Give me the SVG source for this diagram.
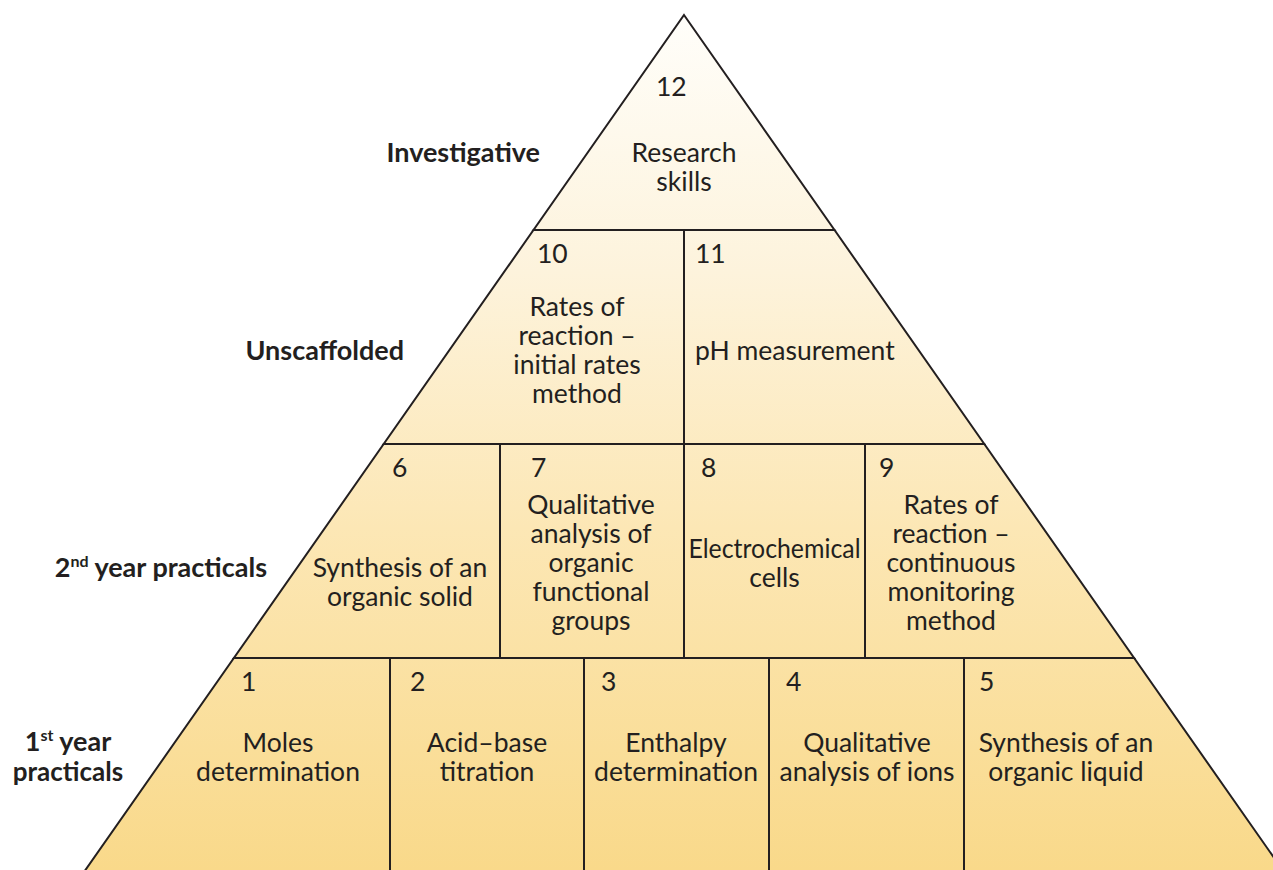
<svg xmlns="http://www.w3.org/2000/svg" width="1273" height="870" viewBox="0 0 1273 870">
<defs>
<linearGradient id="fillGrad" gradientUnits="userSpaceOnUse" x1="0" y1="15" x2="0" y2="870">
<stop offset="0" stop-color="#fffefa"/>
<stop offset="0.3" stop-color="#fdf3dc"/>
<stop offset="0.6" stop-color="#fce7b5"/>
<stop offset="1" stop-color="#f9d98a"/>
</linearGradient>
</defs>
<style>
.cell{fill:url(#fillGrad);stroke:#231f20;stroke-width:2;stroke-linejoin:miter}
.t{font-family:Lato,"Liberation Sans",sans-serif;font-size:26.5px;fill:#231f20}
.c{text-anchor:middle}
.lbl{font-family:Lato,"Liberation Sans",sans-serif;font-size:27px;font-weight:bold;fill:#231f20}
.sup{font-size:16px}
</style>
<rect width="1273" height="870" fill="#ffffff"/>

<g id="cell-12">
<polygon class="cell" points="684,15 834.5,230 533.5,230"/>
<text class="t" x="656" y="96">12</text>
<text class="t c" x="684" y="162">Research</text>
<text class="t c" x="684" y="191">skills</text>
</g>

<g id="cell-10">
<polygon class="cell" points="533.5,230 684,230 684,444 383.7,444"/>
<text class="t" x="537" y="263">10</text>
<text class="t c" x="577" y="316">Rates of</text>
<text class="t c" x="577" y="345">reaction –</text>
<text class="t c" x="577" y="374">initial rates</text>
<text class="t c" x="577" y="403">method</text>
</g>

<g id="cell-11">
<polygon class="cell" points="684,230 834.5,230 984.3,444 684,444"/>
<text class="t" x="695" y="263">11</text>
<text class="t" x="695" y="360">pH measurement</text>
</g>

<g id="cell-6">
<polygon class="cell" points="383.7,444 500,444 500,658 233.9,658"/>
<text class="t" x="392" y="477">6</text>
<text class="t c" x="400" y="577">Synthesis of an</text>
<text class="t c" x="400" y="606">organic solid</text>
</g>

<g id="cell-7">
<polygon class="cell" points="500,444 684,444 684,658 500,658"/>
<text class="t" x="531" y="477">7</text>
<text class="t c" x="591" y="514">Qualitative</text>
<text class="t c" x="591" y="543">analysis of</text>
<text class="t c" x="591" y="572">organic</text>
<text class="t c" x="591" y="601">functional</text>
<text class="t c" x="591" y="630">groups</text>
</g>

<g id="cell-8">
<polygon class="cell" points="684,444 865,444 865,658 684,658"/>
<text class="t" x="701" y="477">8</text>
<text class="t c" x="774.5" y="558" textLength="172" lengthAdjust="spacingAndGlyphs">Electrochemical</text>
<text class="t c" x="774.5" y="587">cells</text>
</g>

<g id="cell-9">
<polygon class="cell" points="865,444 984.3,444 1134.1,658 865,658"/>
<text class="t" x="879" y="477">9</text>
<text class="t c" x="951" y="514">Rates of</text>
<text class="t c" x="951" y="543">reaction –</text>
<text class="t c" x="951" y="572">continuous</text>
<text class="t c" x="951" y="601">monitoring</text>
<text class="t c" x="951" y="630">method</text>
</g>

<g id="cell-1">
<polygon class="cell" points="233.9,658 390,658 390,872 84,872"/>
<text class="t" x="241" y="691">1</text>
<text class="t c" x="278" y="752">Moles</text>
<text class="t c" x="278" y="781">determination</text>
</g>

<g id="cell-2">
<polygon class="cell" points="390,658 584,658 584,872 390,872"/>
<text class="t" x="410" y="691">2</text>
<text class="t c" x="487" y="752">Acid–base</text>
<text class="t c" x="487" y="781">titration</text>
</g>

<g id="cell-3">
<polygon class="cell" points="584,658 769,658 769,872 584,872"/>
<text class="t" x="601" y="691">3</text>
<text class="t c" x="676" y="752">Enthalpy</text>
<text class="t c" x="676" y="781">determination</text>
</g>

<g id="cell-4">
<polygon class="cell" points="769,658 964,658 964,872 769,872"/>
<text class="t" x="786" y="691">4</text>
<text class="t c" x="867" y="752">Qualitative</text>
<text class="t c" x="867" y="781">analysis of ions</text>
</g>

<g id="cell-5">
<polygon class="cell" points="964,658 1134.1,658 1284,872 964,872"/>
<text class="t" x="979" y="691">5</text>
<text class="t c" x="1066" y="752">Synthesis of an</text>
<text class="t c" x="1066" y="781">organic liquid</text>
</g>

<g id="level-labels">
<text class="lbl" x="540" y="162" text-anchor="end">Investigative</text>
<text class="lbl" x="404" y="360" text-anchor="end">Unscaffolded</text>
<text class="lbl" x="267" y="577" text-anchor="end">2<tspan class="sup" baseline-shift="10">nd</tspan> year practicals</text>
<text class="lbl" x="68" y="751" text-anchor="middle">1<tspan class="sup" baseline-shift="10">st</tspan> year</text>
<text class="lbl" x="68" y="781" text-anchor="middle" style="font-size:26px">practicals</text>
</g>
</svg>
